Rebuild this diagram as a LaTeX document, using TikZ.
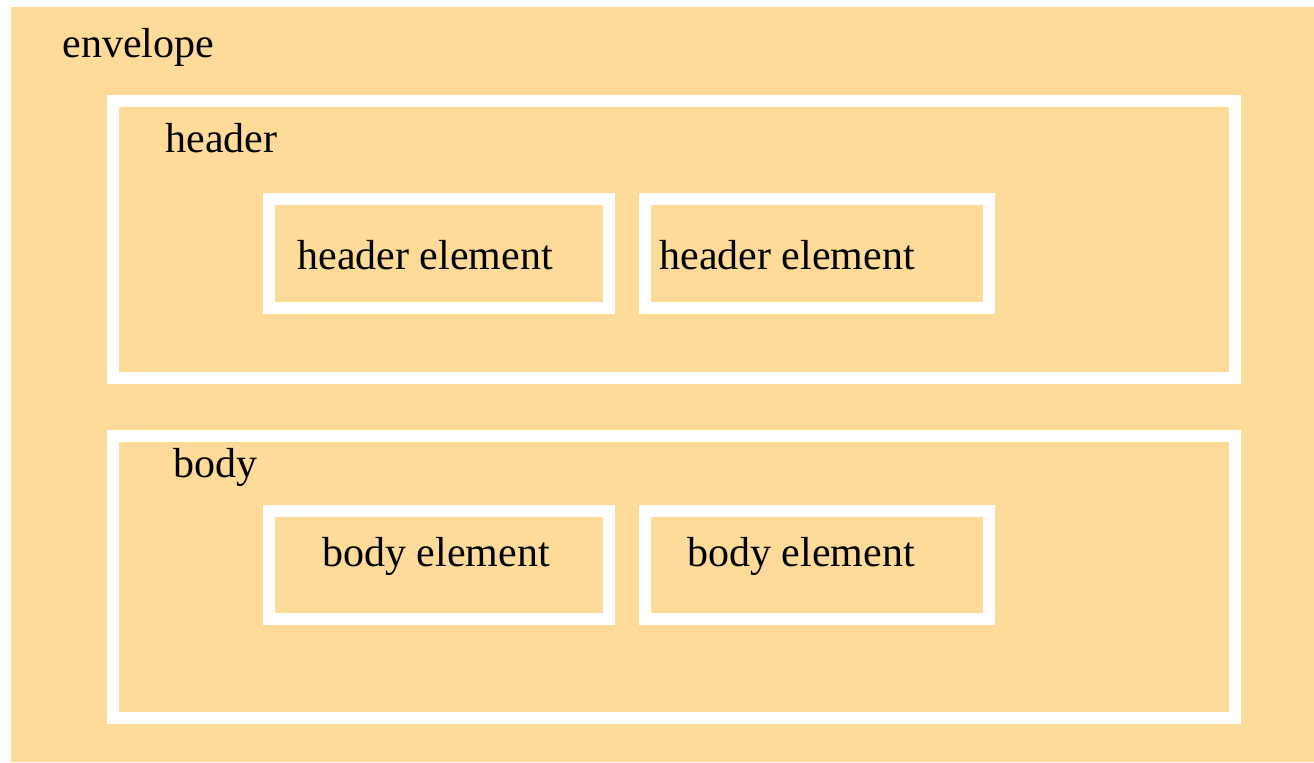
\documentclass[tikz,border=0pt]{standalone}
\usepackage{fontspec}
\setmainfont{Liberation Serif}
\definecolor{envfill}{RGB}{254,219,153}
\tikzset{
  part/.style = {draw=white, line width=6pt, fill=envfill, inner sep=0pt},
  tag/.style = {anchor=base west, inner sep=0pt, font=\fontsize{21}{25}\selectfont}
}
\begin{document}
\begin{tikzpicture}[x=0.5pt, y=-0.5pt]
\useasboundingbox (0,0) rectangle (1314,762);
\fill[envfill] (11,7) rectangle (1314,762);
\node[tag] (envlabel) at (62,57) {envelope};

% header and its elements
\node[part, minimum width=561pt, minimum height=138.5pt] (header) at (674,239.5) {};
\node[tag] (headerlabel) at (165,152) {header};
\node[part, minimum width=170pt, minimum height=54.5pt] (hel1) at (439,253.5) {};
\node[part, minimum width=172pt, minimum height=54.5pt] (hel2) at (817,253.5) {};
\node[tag] at (297,269) {header element};
\node[tag] at (659,269) {header element};

% body and its elements
\node[part, minimum width=561pt, minimum height=141pt] (body) at (674,577) {};
\node[tag] (bodylabel) at (173,477) {body};
\node[part, minimum width=170pt, minimum height=54pt] (bel1) at (439,565) {};
\node[part, minimum width=172pt, minimum height=54pt] (bel2) at (817,565) {};
\node[tag] at (322,566) {body element};
\node[tag] at (687,566) {body element};
\end{tikzpicture}
\end{document}
